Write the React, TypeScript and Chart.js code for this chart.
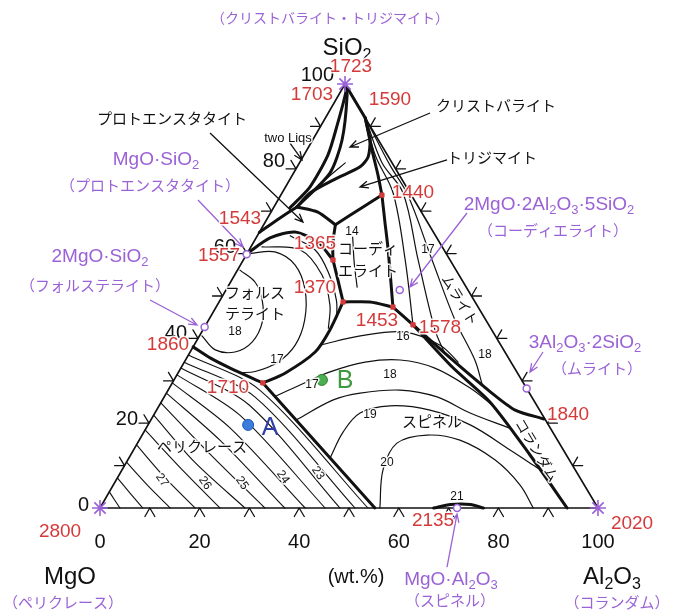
import React, { useEffect, useRef } from "react";
import { Chart, registerables } from "chart.js";

Chart.register(...registerables);

type P = [number, number];

// skew of the ternary grid: horizontal position of the SiO2 apex as a share of the base
const K = 0.492;

// ---------- compositions as [Al2O3 wt%, SiO2 wt%] ----------
const triangleEdge: P[] = [[0, 0], [100, 0], [0, 100], [0, 0]];
const tickValues = [10, 20, 30, 40, 50, 60, 70, 80, 90];
const axisLabels = [0, 20, 40, 60, 80, 100];

// thick phase-boundary curves
const bTwoLiqOuter: P[] = [[0, 100], [1.1, 98.1], [3.2, 90.3], [4.8, 83.3], [4.9, 75.7], [3.3, 70.8]];
const bTwoLiqInner: P[] = [[0, 100], [1.7, 97.4], [5.9, 86.8], [7.3, 79.0], [4.6, 71.0]];
const bSilicaEdge: P[] = [[0, 100], [8, 92]];
const bCristTrid: P[] = [[8, 92], [11.5, 86.8], [13.1, 82.8], [12.6, 80.4], [9.3, 77.8], [5.6, 74.3], [4.6, 71.0]];
const bSilicaMullite: P[] = [[8, 92], [13.1, 84.4], [17.2, 78.5], [20.3, 73.8]];
const bTridProto: P[] = [[4.6, 71.0], [9.4, 69.8], [14.4, 66.8]];
const bTridCord: P[] = [[14.4, 66.8], [17.9, 71.0], [20.3, 73.8]];
const bProtoCord: P[] = [[14.4, 66.8], [16.0, 62.5], [18.0, 58.5]];
const bFoCord: P[] = [[18.0, 58.5], [21.3, 53.8], [24.9, 48.6]];
const bCordSpinel: P[] = [[24.9, 48.6], [30.3, 48.6], [35.5, 47.4]];
const bCordMullite: P[] = [[20.3, 73.8], [24.0, 67.5], [27.9, 60.9], [35.5, 47.4]];
const bSpinelMullite: P[] = [[35.5, 47.4], [41.6, 43.2]];
const bMulliteCorundum: P[] = [[41.6, 43.2], [52.9, 35.4], [64.9, 27.4], [72.0, 23.1], [78.8, 21.0]];
const bSpinelCorundum: P[] = [[41.6, 43.2], [54.3, 33.3], [66.0, 25.0], [80.2, 12.5], [93.8, 0]];
const bPericlaseFo: P[] = [[0, 38], [4.7, 35.4], [9.9, 33.0], [18.2, 29.5]];
const bPericlaseSpinel: P[] = [[18.2, 29.5], [55.2, 0]];
const bFoSpinel: P[] = [[18.2, 29.5], [21.5, 31.8], [25.1, 36.8], [25.5, 42.0], [24.9, 48.6]];
const bFoProto: P[] = [[0, 60], [2.8, 63.7], [7.1, 65.1], [12.9, 62.7], [18.0, 58.5]];
const bProtoSilica: P[] = [[0, 65], [2.5, 68.4], [4.6, 71.0]];
const bSpinelLens: P[] = [[67, 0], [70, 0.8], [74, 0.8], [77, 0]];

// thin isotherms
const isoFo18: P[] = [[0.5, 40.6], [4.8, 37.3], [9.0, 36.8], [11.3, 39.2], [11.0, 43.9], [8.4, 49.1], [4.9, 53.3], [0.5, 56.1]];
const isoFo17: P[] = [[0.5, 60], [5.4, 60.4], [11.0, 57.3], [15.9, 51.4], [19.3, 44.3], [20.3, 38.4], [18.8, 34.4], [15.3, 32.2], [12.5, 31.9]];
const isoFo16: P[] = [[2.2, 61.6], [10.2, 60.9], [17.5, 55.0], [22.6, 47.9], [25.0, 42.4]];
const isoFo15: P[] = [[6.6, 64.2], [13.2, 60.9], [18.4, 55.7], [23.3, 49.1], [25.4, 45.0]];
const isoSp16: P[] = [[25.3, 38.4], [32.3, 40.6], [40.8, 41.5], [49.4, 38.4], [55.0, 34.4]];
const isoSp17: P[] = [[22.2, 26.3], [25.9, 29.0], [30.4, 32.1], [36.3, 34.4], [43.1, 34.9], [51.0, 33.0], [60.4, 28.3], [66.8, 24.3]];
const isoSp18: P[] = [[29.2, 20.8], [34.3, 25.5], [38.9, 27.1], [46.6, 27.8], [54.8, 26.2], [63.3, 22.4], [72.8, 18.9]];
const isoSp19: P[] = [[40.4, 11.8], [40.0, 17.9], [41.2, 22.4], [46.4, 24.1], [54.9, 23.1], [64.7, 19.6], [75.6, 13.7], [83.3, 9.4]];
const isoSp20: P[] = [[56.2, 0], [52.4, 9.0], [52.1, 15.3], [57.2, 17.2], [64.4, 16.0], [73.8, 11.3], [81.7, 5.4], [87.0, 0]];
const isoMuA: P[] = [[8.0, 92.0], [14.5, 83.0], [22.3, 74.3], [32.5, 58.5], [41.6, 43.2]];
const isoMuB: P[] = [[8.5, 91.4], [16.5, 81.5], [24.3, 74.3], [35.1, 58.5], [46.6, 42.0], [51.0, 36.8]];
const isoMuC: P[] = [[9.5, 90.4], [18.5, 80.8], [25.5, 73.8], [37.9, 58.5], [49.5, 44.3], [58.1, 34.9], [62.5, 29.0]];
const isoCord: P[] = [[19.3, 63.9], [22.5, 58.0], [26.0, 52.1]];
const isoTrid: P[] = [[9.2, 81.4], [7.5, 78.2], [5.9, 75.0]];

// periclase-field isotherms
const periclaseLines: P[][] = [
  [[0, 36.1], [18.4, 27.8], [53.8, 0]],
  [[0, 34.4], [18.2, 26.2], [51.2, 0]],
  [[0, 33.0], [18.0, 24.3], [48.2, 0]],
  [[0, 31.4], [17.3, 21.9], [45.2, 0]],
  [[0, 29.5], [16.8, 18.9], [41.2, 0]],
  [[0, 27.1], [16.2, 16.0], [37.1, 0]],
  [[0, 24.8], [15.2, 13.2], [33.1, 0]],
  [[0, 21.9], [13.7, 10.8], [29.1, 0]],
  [[0, 18.4], [12.1, 9.0], [24.1, 0]],
  [[0, 14.9], [9.6, 7.1], [19.1, 0]],
  [[0, 10.8], [7.1, 5.2], [14.1, 0]],
  [[0, 7.1], [4.3, 3.5], [8.6, 0]],
  [[0, 3.8], [2.0, 1.9], [4.0, 0]],
];

// points
const cornerPoints: P[] = [[0, 0], [100, 0], [0, 100]];
const compoundPoints: P[] = [[0, 59.85], [0, 42.7], [34.9, 51.4], [71.8, 28.2], [71.7, 0]];
const invariantPoints: P[] = [[20.3, 73.8], [18.0, 58.5], [24.9, 48.6], [35.5, 47.4], [41.6, 43.2], [18.2, 29.5]];
const pointA: P[] = [[20.1, 19.6]];
const pointB: P[] = [[29.7, 30.2]];

// ---------- annotations (chart units: x across the base 0..100, y = height 0..100) ----------
const tempLabels: [string, number, number][] = [
  ["1723", 50.4, 104.0], ["1703", 42.57, 97.41], ["1590", 58.23, 96.23], ["1440", 62.85, 74.29],
  ["1543", 28.11, 68.16], ["1557", 23.9, 59.43], ["1365", 43.17, 62.26], ["1370", 43.17, 51.89],
  ["1453", 55.62, 44.1], ["1578", 68.27, 42.45], ["1860", 13.65, 38.44], ["1710", 25.7, 28.3],
  ["1840", 93.98, 21.93], ["2135", 66.87, -3.07], ["2020", 106.83, -3.77], ["2800", -8.03, -5.66],
];
const compoundFormulas: [string, number, number][] = [
  ["MgO·SiO2", 11.24, 82.08], ["2MgO·SiO2", 0, 59.2], ["2MgO·2Al2O3·5SiO2", 90.16, 71.46],
  ["3Al2O3·2SiO2", 97.39, 38.92], ["MgO·Al2O3", 70.48, -16.9],
];
const compoundNames: [string, number, number][] = [
  ["（クリストバライト・トリジマイト）", 46.18, 115.57], ["（プロトエンスタタイト）", 10.04, 76.18],
  ["（フォルステライト）", -1.0, 52.59], ["（コーディエライト）", 90.96, 65.57], ["（ムライト）", 99.8, 33.02],
  ["（スピネル）", 70.28, -21.7], ["（ペリクレース）", -7.43, -22.17], ["（コランダム）", 103.82, -22.17],
];
const fieldNames: [string, number, number][] = [
  ["プロトエンスタタイト", 14.46, 91.98], ["クリストバライト", 79.52, 95.05], ["トリジマイト", 78.71, 82.78],
  ["コーディ", 53.82, 61.32], ["エライト", 53.82, 56.13], ["フォルス", 31.12, 50.94], ["テライト", 31.12, 45.99],
  ["ペリクレース", 20.48, 14.62], ["スピネル", 66.67, 20.52],
];
const rotatedFieldNames: [string, number, number, number][] = [
  ["ムライト", 72.29, 49.06, 59], ["コランダム", 87.75, 13.68, 59],
];
const isothermNumbers: [string, number, number][] = [
  ["17", 65.86, 60.85], ["18", 77.31, 36.08], ["16", 60.84, 40.33], ["17", 42.57, 29.01], ["18", 58.23, 31.37],
  ["19", 54.22, 21.93], ["20", 57.63, 10.61], ["21", 71.69, 2.59], ["18", 27.11, 41.51], ["17", 35.54, 34.91],
  ["14", 50.6, 65.09],
];
const periclaseNumbers: [string, number, number][] = [
  ["27", 12.45, 6.6], ["26", 21.08, 5.9], ["25", 28.51, 5.9], ["24", 36.75, 7.31], ["23", 43.78, 8.25],
];
const oxideLabels: [string, number, number][] = [
  ["SiO2", 49.6, 108.49], ["MgO", -6.02, -16.27], ["Al2O3", 102.81, -16.27],
];
const blackArrows: [number, number, number, number][] = [
  [22.09, 88.44, 40.76, 67.45], [66.27, 93.16, 50.2, 85.14], [69.68, 82.08, 52.21, 75.71], [38.15, 86.08, 40.56, 82.08],
];
const purpleArrows: [number, number, number, number][] = [
  [19.68, 72.64, 28.71, 61.56], [10.04, 49.06, 19.48, 43.16], [73.69, 69.58, 62.25, 52.12],
  [88.96, 36.79, 86.35, 32.08], [69.68, -13.92, 71.69, -1.42],
];

// ---------- styles ----------
const PURPLE = "#9a62d6";
const RED = "#d43a3a";
const INK = "#111111";
const FONT = '"Liberation Sans", Arial, "Noto Sans CJK JP", sans-serif';
const FONT_JP = '"Noto Sans CJK JP", "Liberation Sans", sans-serif';
const TICK = 2;

const xy = (p: P) => ({ x: p[0] + K * p[1], y: p[1] });

function lineSet(points: P[], width: number, order: number, tension = 0.3, color = INK) {
  return {
    data: points.map(xy),
    showLine: true,
    borderColor: color,
    borderWidth: width,
    pointRadius: 0,
    tension,
    clip: false,
    fill: false,
    order,
    borderCapStyle: "round",
    borderJoinStyle: "round",
  };
}

function drawRich(
  ctx: CanvasRenderingContext2D, text: string, x: number, y: number,
  size: number, color: string, align: "left" | "center" | "right" = "center",
  family = FONT, halo = false
) {
  const runs: { t: string; sub: boolean }[] = [];
  for (let i = 0; i < text.length; i++) {
    const ch = text[i];
    const sub = /[0-9]/.test(ch) && i > 0 && /[A-Za-z]/.test(text[i - 1]);
    const last = runs[runs.length - 1];
    if (last && last.sub === sub) last.t += ch;
    else runs.push({ t: ch, sub });
  }
  const subSize = Math.round(size * 0.68);
  let total = 0;
  const widths = runs.map((r) => {
    ctx.font = `${r.sub ? subSize : size}px ${family}`;
    const w = ctx.measureText(r.t).width;
    total += w;
    return w;
  });
  let cx = align === "center" ? x - total / 2 : align === "right" ? x - total : x;
  ctx.textAlign = "left";
  ctx.textBaseline = "middle";
  runs.forEach((r, i) => {
    ctx.font = `${r.sub ? subSize : size}px ${family}`;
    const yy = r.sub ? y + size * 0.3 : y;
    if (halo) {
      ctx.strokeStyle = "rgba(255,255,255,0.9)";
      ctx.lineWidth = 3;
      ctx.lineJoin = "round";
      ctx.strokeText(r.t, cx, yy);
    }
    ctx.fillStyle = color;
    ctx.fillText(r.t, cx, yy);
    cx += widths[i];
  });
}

function drawArrow(ctx: CanvasRenderingContext2D, x1: number, y1: number, x2: number, y2: number, color: string) {
  const ang = Math.atan2(y2 - y1, x2 - x1);
  const head = 9;
  ctx.strokeStyle = color;
  ctx.lineWidth = 1.3;
  ctx.beginPath();
  ctx.moveTo(x1, y1);
  ctx.lineTo(x2, y2);
  ctx.moveTo(x2 - head * Math.cos(ang - 0.4), y2 - head * Math.sin(ang - 0.4));
  ctx.lineTo(x2, y2);
  ctx.lineTo(x2 - head * Math.cos(ang + 0.4), y2 - head * Math.sin(ang + 0.4));
  ctx.stroke();
}

const annotationPlugin = {
  id: "ternaryAnnotations",
  afterDatasetsDraw(chart: any) {
    const ctx: CanvasRenderingContext2D = chart.ctx;
    const sx = chart.scales.x;
    const sy = chart.scales.y;
    const px = (v: number) => sx.getPixelForValue(v);
    const py = (v: number) => sy.getPixelForValue(v);
    ctx.save();

    blackArrows.forEach(([a, b, c, d]) => drawArrow(ctx, px(a), py(b), px(c), py(d), INK));
    purpleArrows.forEach(([a, b, c, d]) => drawArrow(ctx, px(a), py(b), px(c), py(d), PURPLE));

    // axis numbers
    axisLabels.forEach((v) => {
      drawRich(ctx, String(v), px(v), py(0) + 34, 20, INK);
      const e = xy([0, v]);
      drawRich(ctx, String(v), px(e.x) - 11, py(e.y) - (3 + v * 0.06), 20, INK, "right");
    });

    fieldNames.forEach(([t, x, y]) => drawRich(ctx, t, px(x), py(y), 15, INK, "center", FONT_JP, true));
    rotatedFieldNames.forEach(([t, x, y, deg]) => {
      ctx.save();
      ctx.translate(px(x), py(y));
      ctx.rotate((deg * Math.PI) / 180);
      drawRich(ctx, t, 0, 0, 14, INK, "center", FONT_JP, true);
      ctx.restore();
    });
    isothermNumbers.forEach(([t, x, y]) => drawRich(ctx, t, px(x), py(y), 12, INK, "center", FONT, true));
    periclaseNumbers.forEach(([t, x, y]) => {
      ctx.save();
      ctx.translate(px(x), py(y));
      ctx.rotate((55 * Math.PI) / 180);
      drawRich(ctx, t, 0, 0, 12, INK, "center", FONT, true);
      ctx.restore();
    });
    drawRich(ctx, "two Liqs", px(37.75), py(87.26), 13, INK, "center", FONT, true);
    drawRich(ctx, "(wt.%)", px(51.41), py(-16.27), 20, INK);
    oxideLabels.forEach(([t, x, y]) => drawRich(ctx, t, px(x), py(y), 24, INK));

    tempLabels.forEach(([t, x, y]) => drawRich(ctx, t, px(x), py(y), 19, RED, "center", FONT, true));
    compoundFormulas.forEach(([t, x, y]) => drawRich(ctx, t, px(x), py(y), 19, PURPLE));
    compoundNames.forEach(([t, x, y], i) =>
      drawRich(ctx, t, px(x), py(y), i === 0 ? 14 : 15, PURPLE, "center", FONT_JP)
    );

    drawRich(ctx, "A", px(34.14), py(18.87), 25, "#2f3fa8");
    drawRich(ctx, "B", px(49.2), py(29.95), 25, "#3f9a3f");
    ctx.restore();
  },
};

function buildDatasets() {
  const sets: any[] = [];
  // markers on top
  sets.push({ data: cornerPoints.map(xy), pointStyle: "star", pointRadius: 8, borderColor: PURPLE, borderWidth: 1.6, backgroundColor: PURPLE, clip: false, order: 0 });
  sets.push({ data: compoundPoints.map(xy), pointStyle: "circle", pointRadius: 3.5, borderColor: PURPLE, borderWidth: 1.5, backgroundColor: "#ffffff", clip: false, order: 0 });
  sets.push({ data: invariantPoints.map(xy), pointStyle: "rect", pointRadius: 3, borderColor: RED, backgroundColor: RED, borderWidth: 1, clip: false, order: 0 });
  sets.push({ data: pointA.map(xy), pointStyle: "circle", pointRadius: 5.5, borderColor: "#1f55b8", backgroundColor: "#3b7ddd", borderWidth: 1, clip: false, order: 0 });
  sets.push({ data: pointB.map(xy), pointStyle: "circle", pointRadius: 5.5, borderColor: "#2e7d32", backgroundColor: "#4caf50", borderWidth: 1, clip: false, order: 0 });

  // triangle and ticks
  sets.push(lineSet(triangleEdge, 1.6, 1, 0));
  tickValues.forEach((v) => {
    sets.push(lineSet([[v, -TICK], [v, 0], [v + TICK, -TICK]], 1.3, 1, 0));
    sets.push(lineSet([[-TICK, v], [0, v], [-TICK, v + TICK]], 1.3, 1, 0));
    sets.push(lineSet([[100 - v + TICK, v], [100 - v, v], [100 - v, v + TICK]], 1.3, 1, 0));
  });

  // thick boundaries
  [bTwoLiqOuter, bTwoLiqInner, bSilicaEdge, bCristTrid, bSilicaMullite, bTridProto, bTridCord, bProtoCord,
    bFoCord, bCordSpinel, bCordMullite, bSpinelMullite, bMulliteCorundum, bSpinelCorundum, bPericlaseFo,
    bPericlaseSpinel, bFoSpinel, bFoProto, bProtoSilica, bSpinelLens].forEach((b) => sets.push(lineSet(b, 3, 2, 0.25)));

  // thin isotherms
  [isoFo18, isoFo17, isoFo16, isoFo15, isoSp16, isoSp17, isoSp18, isoSp19, isoSp20, isoMuA, isoMuB, isoMuC, isoCord, isoTrid]
    .forEach((c) => sets.push(lineSet(c, 1.2, 3, 0.35)));
  periclaseLines.forEach((c) => sets.push(lineSet(c, 1.1, 3, 0.3)));
  return sets;
}

export default function App() {
  const ref = useRef<HTMLCanvasElement>(null);
  useEffect(() => {
    const chart = new Chart(ref.current as HTMLCanvasElement, {
      type: "scatter",
      data: { datasets: buildDatasets() },
      options: {
        responsive: false,
        animation: false,
        devicePixelRatio: 1,
        events: [],
        layout: { padding: { left: 100, right: 75, top: 84, bottom: 103 } },
        scales: {
          x: { type: "linear", min: 0, max: 100, display: false },
          y: { type: "linear", min: 0, max: 100, display: false },
        },
        plugins: { legend: { display: false }, tooltip: { enabled: false } },
      },
      plugins: [annotationPlugin],
    } as any);
    return () => chart.destroy();
  }, []);
  return (
    <div style={{ position: "fixed", left: 0, top: 0, width: 673, height: 611, background: "#ffffff" }}>
      <canvas ref={ref} width={673} height={611} style={{ width: 673, height: 611, display: "block" }} />
    </div>
  );
}
